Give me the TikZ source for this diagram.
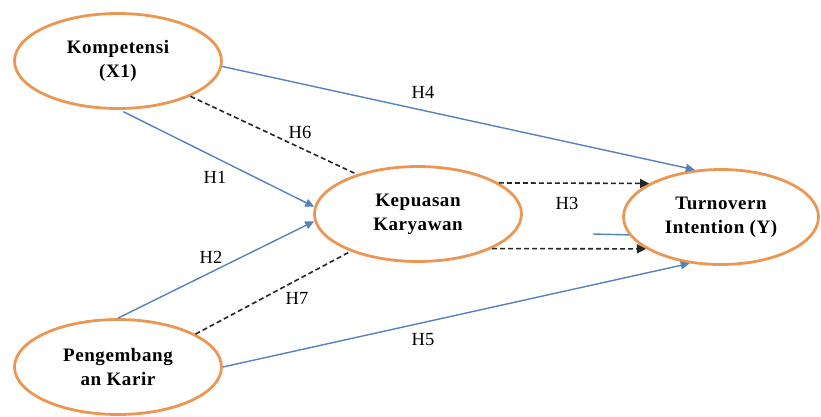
\documentclass[tikz,border=0pt]{standalone}
\usepackage{fontspec}
\setmainfont{Liberation Serif}
\newfontfamily\varfont[LetterSpace=3]{Liberation Serif}
\usetikzlibrary{shapes.geometric,arrows.meta}
\definecolor{ellorange}{RGB}{236,150,84}
\definecolor{arrblue}{RGB}{84,130,190}
\begin{document}
\begin{tikzpicture}[x=1pt,y=-1pt,
  var/.style={ellipse,draw=ellorange,line width=2.8pt,inner sep=0pt,align=center,
    minimum height=95pt,font=\varfont\bfseries\fontsize{19}{24}\selectfont},
  blu/.style={draw=arrblue,line width=1.4pt},
  bluarr/.style={blu,-{Triangle[length=9pt,width=8pt]}},
  dsh/.style={draw=black!85,line width=1.6pt,dash pattern=on 5pt off 3pt},
  dsharr/.style={dsh,-{Triangle[length=9pt,width=9pt]}},
  hl/.style={font=\fontsize{18.5}{20}\selectfont,inner sep=0pt}
]
\useasboundingbox (0,0) rectangle (821,416);
\node[var,minimum width=207pt] (k) at (118,61) {Kompetensi\\(X1)};
\node[var,minimum width=207pt] (kp) at (418,214) {Kepuasan\\Karyawan};
\node[var,minimum width=195pt] (t) at (721,217) {Turnovern\\Intention (Y)};
\node[var,minimum width=207pt] (p) at (118,367) {Pengembang\\an Karir};

\draw[bluarr] (k.-3) -- (t.119);
\draw[dsh] (k.-26) -- (kp.147);
\draw[bluarr,shorten <=4pt] (k.-88) -- (kp.176);
\draw[bluarr] (p.90) -- (kp.-176);
\draw[dsh] (p.23) -- (kp.-151);
\draw[bluarr] (p.0) -- (t.-124);
\draw[dsharr] (kp.21) -- (t.155);
\draw[dsharr] (kp.-25) -- (t.-157);
\coordinate (s) at (593,234);
\draw[blu] (s) -- (t.-169);

\node[hl] (h4) at (423,92) {H4};
\node[hl] (h6) at (300,132) {H6};
\node[hl] (h1) at (215,177) {H1};
\node[hl] (h3) at (567,203) {H3};
\node[hl] (h2) at (211,257) {H2};
\node[hl] (h7) at (297,298) {H7};
\node[hl] (h5) at (423,340) {H5};
\end{tikzpicture}
\end{document}
